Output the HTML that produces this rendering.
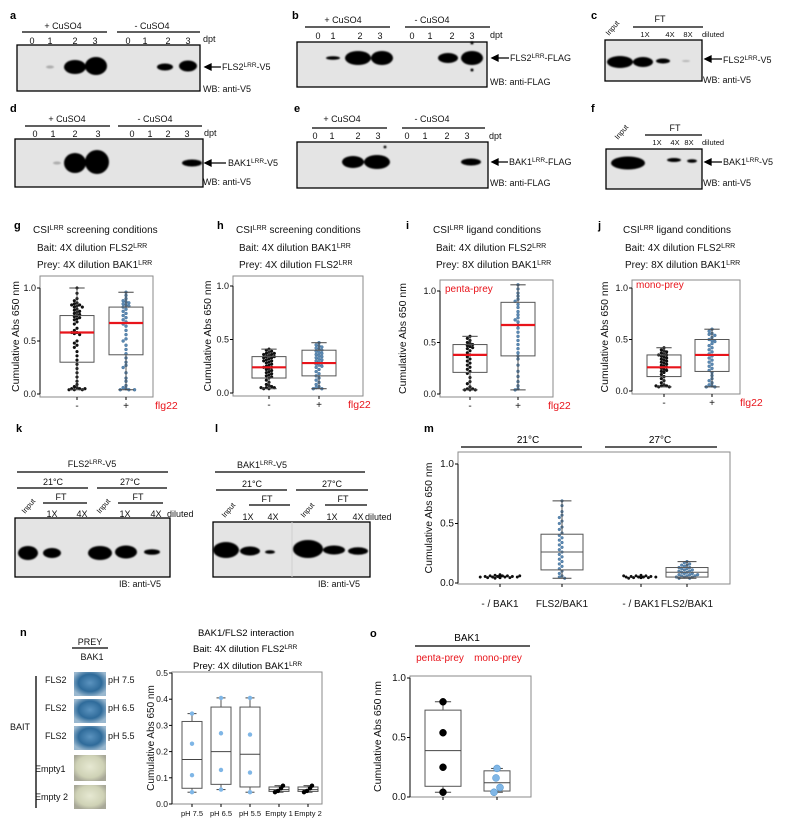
<!DOCTYPE html>
<html><head><meta charset="utf-8">
<style>
html,body{margin:0;padding:0;background:#fff;}
svg{display:block;font-family:"Liberation Sans",Arial,sans-serif;}
.t{font-size:9px;fill:#111;}
.s{font-size:7.5px;fill:#111;}
.lb{font-size:11px;font-weight:bold;fill:#000;}
.red{fill:#e8141b;}
</style></head>
<body>
<svg id="fig" width="800" height="828" viewBox="0 0 800 828" xmlns="http://www.w3.org/2000/svg">
<defs>
<filter id="bl" x="-50%" y="-50%" width="200%" height="200%"><feGaussianBlur stdDeviation="0.9"/></filter>
<radialGradient id="wellB" cx="50%" cy="45%" r="60%"><stop offset="0" stop-color="#5b93bf"/><stop offset="0.6" stop-color="#2f6b9a"/><stop offset="1" stop-color="#9ab8cf"/></radialGradient>
<radialGradient id="wellE" cx="50%" cy="45%" r="60%"><stop offset="0" stop-color="#e6e8d2"/><stop offset="0.7" stop-color="#cfd2b6"/><stop offset="1" stop-color="#a8a898"/></radialGradient>
</defs>

<!-- ===== panel a ===== -->
<g>
<text class="lb" x="10" y="19">a</text>
<text class="t" x="63" y="29" text-anchor="middle">+ CuSO4</text>
<line x1="22" y1="32" x2="107" y2="32" stroke="#000" stroke-width="1.2"/>
<text class="t" x="152" y="29" text-anchor="middle">- CuSO4</text>
<line x1="117" y1="32" x2="200" y2="32" stroke="#000" stroke-width="1.2"/>
<g class="t" text-anchor="middle"><text x="32" y="44">0</text><text x="50" y="44">1</text><text x="75" y="44">2</text><text x="95" y="44">3</text><text x="128" y="44">0</text><text x="145" y="44">1</text><text x="168" y="44">2</text><text x="188" y="44">3</text></g>
<text class="t" x="203" y="42">dpt</text>
<rect x="17" y="45" width="183" height="46" fill="#e4e4e4" stroke="#000" stroke-width="1.3"/>
<g filter="url(#bl)"><ellipse cx="50" cy="67" rx="4" ry="1.5" fill="#000" opacity="0.25"/><ellipse cx="75" cy="67" rx="11" ry="7" fill="#000"/><ellipse cx="96" cy="66" rx="11" ry="9" fill="#000"/><ellipse cx="165" cy="67" rx="8" ry="3.5" fill="#000"/><ellipse cx="188" cy="66" rx="9" ry="5.5" fill="#000"/></g>
<path d="M205 67 L221 67 M205 67 L211 64 L211 70 Z" stroke="#000" stroke-width="1.3" fill="#000"/>
<text class="t" x="222" y="70">FLS2<tspan font-size="6.5" dy="-3">LRR</tspan><tspan dy="3">-V5</tspan></text>
<text class="t" x="203" y="92">WB: anti-V5</text>
</g>

<!-- ===== panel b ===== -->
<g>
<text class="lb" x="292" y="19">b</text>
<text class="t" x="343" y="23" text-anchor="middle">+ CuSO4</text>
<line x1="305" y1="27" x2="390" y2="27" stroke="#000" stroke-width="1.2"/>
<text class="t" x="432" y="23" text-anchor="middle">- CuSO4</text>
<line x1="405" y1="27" x2="490" y2="27" stroke="#000" stroke-width="1.2"/>
<g class="t" text-anchor="middle"><text x="318" y="39">0</text><text x="333" y="39">1</text><text x="360" y="39">2</text><text x="380" y="39">3</text><text x="412" y="39">0</text><text x="430" y="39">1</text><text x="452" y="39">2</text><text x="472" y="39">3</text></g>
<text class="t" x="490" y="38">dpt</text>
<rect x="297" y="42" width="190" height="45" fill="#e4e4e4" stroke="#000" stroke-width="1.3"/>
<g filter="url(#bl)"><ellipse cx="333" cy="58" rx="7" ry="1.8" fill="#000"/><ellipse cx="358" cy="58" rx="13" ry="7" fill="#000"/><ellipse cx="382" cy="58" rx="11" ry="7" fill="#000"/><ellipse cx="448" cy="58" rx="10" ry="5" fill="#000"/><ellipse cx="472" cy="58" rx="11" ry="7" fill="#000"/><circle cx="472" cy="43" r="1.5" fill="#000"/><circle cx="472" cy="70" r="1.5" fill="#000"/></g>
<path d="M492 58 L509 58 M492 58 L498 55 L498 61 Z" stroke="#000" stroke-width="1.3" fill="#000"/>
<text class="t" x="510" y="61">FLS2<tspan font-size="6.5" dy="-3">LRR</tspan><tspan dy="3">-FLAG</tspan></text>
<text class="t" x="490" y="85">WB: anti-FLAG</text>
</g>

<!-- ===== panel c ===== -->
<g>
<text class="lb" x="591" y="19">c</text>
<text class="s" x="609" y="36" transform="rotate(-50 609 36)">Input</text>
<text class="t" x="660" y="22" text-anchor="middle">FT</text>
<line x1="633" y1="27" x2="703" y2="27" stroke="#000" stroke-width="1.2"/>
<g class="s" text-anchor="middle"><text x="645" y="37">1X</text><text x="670" y="37">4X</text><text x="688" y="37">8X</text></g>
<text class="s" x="702" y="37">diluted</text>
<rect x="605" y="40" width="97" height="41" fill="#e4e4e4" stroke="#000" stroke-width="1.3"/>
<g filter="url(#bl)"><ellipse cx="620" cy="62" rx="13" ry="6" fill="#000"/><ellipse cx="643" cy="62" rx="10" ry="5" fill="#000"/><ellipse cx="663" cy="61" rx="7" ry="2.5" fill="#000"/><ellipse cx="686" cy="61" rx="4" ry="1" fill="#000" opacity="0.2"/></g>
<path d="M705 59 L722 59 M705 59 L711 56 L711 62 Z" stroke="#000" stroke-width="1.3" fill="#000"/>
<text class="t" x="723" y="63">FLS2<tspan font-size="6.5" dy="-3">LRR</tspan><tspan dy="3">-V5</tspan></text>
<text class="t" x="703" y="83">WB: anti-V5</text>
</g>

<!-- ===== panel d ===== -->
<g>
<text class="lb" x="10" y="112">d</text>
<text class="t" x="67" y="122" text-anchor="middle">+ CuSO4</text>
<line x1="25" y1="126" x2="110" y2="126" stroke="#000" stroke-width="1.2"/>
<text class="t" x="155" y="122" text-anchor="middle">- CuSO4</text>
<line x1="118" y1="126" x2="202" y2="126" stroke="#000" stroke-width="1.2"/>
<g class="t" text-anchor="middle"><text x="35" y="137">0</text><text x="53" y="137">1</text><text x="75" y="137">2</text><text x="98" y="137">3</text><text x="132" y="137">0</text><text x="150" y="137">1</text><text x="168" y="137">2</text><text x="187" y="137">3</text></g>
<text class="t" x="204" y="136">dpt</text>
<rect x="15" y="139" width="188" height="48" fill="#e4e4e4" stroke="#000" stroke-width="1.3"/>
<g filter="url(#bl)"><ellipse cx="57" cy="163" rx="4" ry="1.5" fill="#000" opacity="0.25"/><ellipse cx="75" cy="163" rx="11" ry="10" fill="#000"/><ellipse cx="97" cy="162" rx="12" ry="12" fill="#000"/><ellipse cx="192" cy="163" rx="10" ry="3.5" fill="#000"/></g>
<path d="M205 163 L226 163 M205 163 L211 160 L211 166 Z" stroke="#000" stroke-width="1.3" fill="#000"/>
<text class="t" x="228" y="166">BAK1<tspan font-size="6.5" dy="-3">LRR</tspan><tspan dy="3">-V5</tspan></text>
<text class="t" x="203" y="185">WB: anti-V5</text>
</g>

<!-- ===== panel e ===== -->
<g>
<text class="lb" x="294" y="112">e</text>
<text class="t" x="342" y="122" text-anchor="middle">+ CuSO4</text>
<line x1="312" y1="128" x2="387" y2="128" stroke="#000" stroke-width="1.2"/>
<text class="t" x="432" y="122" text-anchor="middle">- CuSO4</text>
<line x1="402" y1="128" x2="485" y2="128" stroke="#000" stroke-width="1.2"/>
<g class="t" text-anchor="middle"><text x="315" y="139">0</text><text x="332" y="139">1</text><text x="358" y="139">2</text><text x="378" y="139">3</text><text x="407" y="139">0</text><text x="425" y="139">1</text><text x="447" y="139">2</text><text x="467" y="139">3</text></g>
<text class="t" x="489" y="139">dpt</text>
<rect x="297" y="142" width="191" height="46" fill="#e4e4e4" stroke="#000" stroke-width="1.3"/>
<g filter="url(#bl)"><ellipse cx="353" cy="162" rx="11" ry="6" fill="#000"/><ellipse cx="377" cy="162" rx="13" ry="7" fill="#000"/><ellipse cx="471" cy="162" rx="10" ry="3.5" fill="#000"/><circle cx="385" cy="147" r="1.4" fill="#000"/></g>
<path d="M492 162 L508 162 M492 162 L498 159 L498 165 Z" stroke="#000" stroke-width="1.3" fill="#000"/>
<text class="t" x="509" y="165">BAK1<tspan font-size="6.5" dy="-3">LRR</tspan><tspan dy="3">-FLAG</tspan></text>
<text class="t" x="490" y="186">WB: anti-FLAG</text>
</g>

<!-- ===== panel f ===== -->
<g>
<text class="lb" x="591" y="112">f</text>
<text class="s" x="618" y="140" transform="rotate(-50 618 140)">Input</text>
<text class="t" x="675" y="131" text-anchor="middle">FT</text>
<line x1="645" y1="135" x2="702" y2="135" stroke="#000" stroke-width="1.2"/>
<g class="s" text-anchor="middle"><text x="657" y="145">1X</text><text x="675" y="145">4X</text><text x="689" y="145">8X</text></g>
<text class="s" x="702" y="145">diluted</text>
<rect x="606" y="149" width="96" height="40" fill="#e4e4e4" stroke="#000" stroke-width="1.3"/>
<g filter="url(#bl)"><ellipse cx="628" cy="163" rx="17" ry="6.5" fill="#000"/><ellipse cx="674" cy="160" rx="7" ry="2" fill="#000"/><ellipse cx="692" cy="161" rx="5" ry="1.7" fill="#000"/></g>
<path d="M705 162 L722 162 M705 162 L711 159 L711 165 Z" stroke="#000" stroke-width="1.3" fill="#000"/>
<text class="t" x="723" y="165">BAK1<tspan font-size="6.5" dy="-3">LRR</tspan><tspan dy="3">-V5</tspan></text>
<text class="t" x="703" y="186">WB: anti-V5</text>
</g>

<!-- ===== g-j headers ===== -->
<g font-size="10" fill="#111">
<text class="lb" x="14" y="229">g</text>
<text x="33" y="233">CSI<tspan font-size="7" dy="-3">LRR</tspan><tspan dy="3"> screening conditions</tspan></text>
<text x="37" y="251">Bait:  4X dilution FLS2<tspan font-size="7" dy="-3">LRR</tspan></text>
<text x="37" y="268">Prey: 4X dilution BAK1<tspan font-size="7" dy="-3">LRR</tspan></text>
<text class="lb" x="217" y="229">h</text>
<text x="236" y="233">CSI<tspan font-size="7" dy="-3">LRR</tspan><tspan dy="3"> screening conditions</tspan></text>
<text x="239" y="251">Bait:  4X dilution BAK1<tspan font-size="7" dy="-3">LRR</tspan></text>
<text x="239" y="268">Prey: 4X dilution FLS2<tspan font-size="7" dy="-3">LRR</tspan></text>
<text class="lb" x="406" y="229">i</text>
<text x="433" y="233">CSI<tspan font-size="7" dy="-3">LRR</tspan><tspan dy="3"> ligand conditions</tspan></text>
<text x="436" y="251">Bait:  4X dilution FLS2<tspan font-size="7" dy="-3">LRR</tspan></text>
<text x="436" y="268">Prey: 8X dilution BAK1<tspan font-size="7" dy="-3">LRR</tspan></text>
<text class="lb" x="598" y="229">j</text>
<text x="623" y="233">CSI<tspan font-size="7" dy="-3">LRR</tspan><tspan dy="3"> ligand conditions</tspan></text>
<text x="625" y="251">Bait:  4X dilution FLS2<tspan font-size="7" dy="-3">LRR</tspan></text>
<text x="625" y="268">Prey: 8X dilution BAK1<tspan font-size="7" dy="-3">LRR</tspan></text>
<text x="445" y="292" font-size="10" class="red">penta-prey</text>
<text x="636" y="288" font-size="10" class="red">mono-prey</text>
</g>

<!-- ===== k blot ===== -->
<g>
<text class="lb" x="16" y="432">k</text>
<text class="t" x="92" y="467" text-anchor="middle">FLS2<tspan font-size="6.5" dy="-3">LRR</tspan><tspan dy="3">-V5</tspan></text>
<line x1="17" y1="472" x2="168" y2="472" stroke="#000" stroke-width="1.2"/>
<text class="t" x="53" y="485" text-anchor="middle">21°C</text>
<line x1="17" y1="488" x2="88" y2="488" stroke="#000" stroke-width="1.2"/>
<text class="t" x="130" y="485" text-anchor="middle">27°C</text>
<line x1="97" y1="488" x2="167" y2="488" stroke="#000" stroke-width="1.2"/>
<text class="s" x="25" y="514" transform="rotate(-50 25 514)">Input</text>
<text class="t" x="61" y="500" text-anchor="middle">FT</text>
<line x1="43" y1="503" x2="87" y2="503" stroke="#000" stroke-width="1.2"/>
<text class="s" x="100" y="514" transform="rotate(-50 100 514)">Input</text>
<text class="t" x="138" y="500" text-anchor="middle">FT</text>
<line x1="118" y1="503" x2="163" y2="503" stroke="#000" stroke-width="1.2"/>
<g class="t" text-anchor="middle"><text x="52" y="517">1X</text><text x="82" y="517">4X</text><text x="125" y="517">1X</text><text x="156" y="517">4X</text></g>
<text class="t" x="167" y="517">diluted</text>
<rect x="15" y="518" width="155" height="59" fill="#e4e4e4" stroke="#000" stroke-width="1.3"/>
<g filter="url(#bl)"><ellipse cx="28" cy="553" rx="10" ry="7" fill="#000"/><ellipse cx="52" cy="553" rx="9" ry="5" fill="#000"/><ellipse cx="100" cy="553" rx="12" ry="7" fill="#000"/><ellipse cx="126" cy="552" rx="11" ry="6.5" fill="#000"/><ellipse cx="152" cy="552" rx="8" ry="2.8" fill="#000"/></g>
<text class="t" x="119" y="587">IB: anti-V5</text>
</g>

<!-- ===== l blot ===== -->
<g>
<text class="lb" x="215" y="432">l</text>
<text class="t" x="262" y="468" text-anchor="middle">BAK1<tspan font-size="6.5" dy="-3">LRR</tspan><tspan dy="3">-V5</tspan></text>
<line x1="215" y1="472" x2="365" y2="472" stroke="#000" stroke-width="1.2"/>
<text class="t" x="252" y="487" text-anchor="middle">21°C</text>
<line x1="216" y1="490" x2="287" y2="490" stroke="#000" stroke-width="1.2"/>
<text class="t" x="332" y="487" text-anchor="middle">27°C</text>
<line x1="296" y1="490" x2="368" y2="490" stroke="#000" stroke-width="1.2"/>
<text class="s" x="225" y="518" transform="rotate(-50 225 518)">Input</text>
<text class="t" x="267" y="502" text-anchor="middle">FT</text>
<line x1="249" y1="505" x2="290" y2="505" stroke="#000" stroke-width="1.2"/>
<text class="s" x="304" y="518" transform="rotate(-50 304 518)">Input</text>
<text class="t" x="343" y="502" text-anchor="middle">FT</text>
<line x1="325" y1="505" x2="367" y2="505" stroke="#000" stroke-width="1.2"/>
<g class="t" text-anchor="middle"><text x="248" y="520">1X</text><text x="273" y="520">4X</text><text x="332" y="520">1X</text><text x="358" y="520">4X</text></g>
<text class="t" x="365" y="520">diluted</text>
<rect x="213" y="522" width="157" height="55" fill="#e4e4e4" stroke="#000" stroke-width="1.3"/>
<line x1="292" y1="522" x2="292" y2="577" stroke="#cfcfcf" stroke-width="1"/>
<g filter="url(#bl)"><ellipse cx="226" cy="550" rx="13" ry="8" fill="#000"/><ellipse cx="250" cy="551" rx="10" ry="4.5" fill="#000"/><ellipse cx="270" cy="552" rx="5" ry="1.8" fill="#000"/><ellipse cx="308" cy="549" rx="15" ry="9" fill="#000"/><ellipse cx="334" cy="550" rx="11" ry="4.5" fill="#000"/><ellipse cx="358" cy="551" rx="10" ry="3.8" fill="#000"/></g>
<text class="t" x="318" y="587">IB: anti-V5</text>
</g>

<!-- ===== m header ===== -->
<g>
<text class="lb" x="424" y="432">m</text>
<text x="528" y="443" font-size="10" text-anchor="middle">21°C</text>
<line x1="461" y1="447" x2="582" y2="447" stroke="#000" stroke-width="1.3"/>
<text x="660" y="443" font-size="10" text-anchor="middle">27°C</text>
<line x1="605" y1="447" x2="717" y2="447" stroke="#000" stroke-width="1.3"/>
</g>

<!-- ===== n plate ===== -->
<g>
<text class="lb" x="20" y="636">n</text>
<text class="t" x="90" y="645" text-anchor="middle">PREY</text>
<line x1="72" y1="648" x2="108" y2="648" stroke="#000" stroke-width="1.2"/>
<text class="t" x="92" y="660" text-anchor="middle">BAK1</text>
<line x1="36" y1="676" x2="36" y2="808" stroke="#000" stroke-width="1.3"/>
<text class="t" x="10" y="730">BAIT</text>
<text class="t" x="45" y="683">FLS2</text>
<text class="t" x="45" y="711">FLS2</text>
<text class="t" x="45" y="739">FLS2</text>
<text class="t" x="35" y="772">Empty1</text>
<text class="t" x="35" y="800">Empty 2</text>
<text class="t" x="108" y="683">pH 7.5</text>
<text class="t" x="108" y="711">pH 6.5</text>
<text class="t" x="108" y="739">pH 5.5</text>
<g>
<rect x="74" y="672" width="32" height="24" fill="url(#wellB)"/><rect x="74" y="699" width="32" height="24" fill="url(#wellB)"/><rect x="74" y="726" width="32" height="24" fill="url(#wellB)"/><rect x="74" y="755" width="32" height="26" fill="url(#wellE)"/><rect x="74" y="785" width="32" height="24" fill="url(#wellE)"/>
</g>
<text x="246" y="636" font-size="9.5" text-anchor="middle">BAK1/FLS2 interaction</text>
<text x="193" y="652" font-size="9.5">Bait:  4X dilution FLS2<tspan font-size="6.5" dy="-3">LRR</tspan></text>
<text x="193" y="669" font-size="9.5">Prey: 4X dilution BAK1<tspan font-size="6.5" dy="-3">LRR</tspan></text>
</g>

<!-- ===== o header ===== -->
<g>
<text class="lb" x="370" y="637">o</text>
<text x="467" y="641" font-size="10" text-anchor="middle">BAK1</text>
<line x1="415" y1="646" x2="530" y2="646" stroke="#000" stroke-width="1.3"/>
<text x="440" y="661" font-size="10" class="red" text-anchor="middle">penta-prey</text>
<text x="498" y="661" font-size="10" class="red" text-anchor="middle">mono-prey</text>
</g>

<g id="charts"></g>
</svg>

<script>
// ---------- data ----------
const ghCats = ["-", "+"];
const mCats = ["- / BAK1", "FLS2/BAK1", "- / BAK1", "FLS2/BAK1"];
const nCats = ["pH 7.5", "pH 6.5", "pH 5.5", "Empty 1", "Empty 2"];
const oCats = ["penta", "mono"];
const ticks01 = ["0.0", "0.5", "1.0"];
const tickVals01 = [0, 0.5, 1.0];
const nTicks = ["0.0", "0.1", "0.2", "0.3", "0.4", "0.5"];
const nTickVals = [0, 0.1, 0.2, 0.3, 0.4, 0.5];

// box stats: [lo, q1, median, q3, hi]
const gStats = [[0.04, 0.30, 0.58, 0.74, 1.00], [0.04, 0.37, 0.67, 0.82, 0.96]];
const hStats = [[0.04, 0.14, 0.24, 0.34, 0.41], [0.04, 0.16, 0.28, 0.40, 0.47]];
const iStats = [[0.04, 0.21, 0.38, 0.48, 0.56], [0.04, 0.37, 0.67, 0.89, 1.06]];
const jStats = [[0.04, 0.14, 0.23, 0.35, 0.42], [0.04, 0.19, 0.35, 0.50, 0.60]];
const mStats = [null, [0.04, 0.11, 0.26, 0.41, 0.69], null, [0.04, 0.05, 0.09, 0.13, 0.18]];
const nStats = [[0.045, 0.06, 0.17, 0.315, 0.345], [0.055, 0.075, 0.20, 0.37, 0.405], [0.045, 0.065, 0.19, 0.37, 0.405], [0.045, 0.048, 0.055, 0.065, 0.07], [0.045, 0.048, 0.055, 0.065, 0.07]];
const oStats = [[0.04, 0.09, 0.39, 0.73, 0.80], [0.04, 0.05, 0.12, 0.22, 0.24]];

// points
const gMinus = [1.0,0.95,0.9,0.88,0.86,0.85,0.84,0.84,0.83,0.82,0.82,0.8,0.79,0.78,0.77,0.76,0.75,0.74,0.73,0.72,0.71,0.7,0.68,0.66,0.62,0.6,0.58,0.58,0.57,0.56,0.5,0.48,0.46,0.44,0.4,0.36,0.32,0.28,0.24,0.2,0.16,0.12,0.09,0.07,0.06,0.05,0.05,0.05,0.04,0.04,0.04];
const gPlus = [0.96,0.93,0.9,0.88,0.87,0.86,0.85,0.84,0.83,0.82,0.8,0.78,0.76,0.74,0.72,0.7,0.68,0.66,0.64,0.6,0.56,0.52,0.5,0.46,0.42,0.38,0.34,0.3,0.27,0.25,0.2,0.15,0.12,0.08,0.06,0.05,0.04,0.04,0.04];
const hMinus = [0.41,0.4,0.39,0.38,0.37,0.37,0.36,0.36,0.35,0.34,0.34,0.33,0.33,0.32,0.31,0.3,0.3,0.29,0.28,0.27,0.26,0.25,0.24,0.24,0.23,0.22,0.21,0.2,0.19,0.18,0.17,0.16,0.15,0.14,0.12,0.1,0.08,0.07,0.06,0.05,0.05,0.05,0.04,0.04];
const hPlus = [0.47,0.45,0.44,0.43,0.42,0.41,0.4,0.39,0.38,0.37,0.36,0.35,0.34,0.33,0.32,0.31,0.3,0.29,0.28,0.27,0.26,0.25,0.24,0.22,0.2,0.18,0.16,0.14,0.12,0.1,0.08,0.06,0.05,0.04,0.04];
const iMinus = [0.56,0.54,0.52,0.5,0.49,0.48,0.47,0.46,0.45,0.44,0.42,0.4,0.38,0.36,0.34,0.32,0.3,0.28,0.26,0.24,0.22,0.2,0.16,0.12,0.1,0.07,0.05,0.05,0.04,0.04,0.04];
const iPlus = [1.06,1.02,0.98,0.95,0.92,0.9,0.87,0.84,0.8,0.77,0.74,0.72,0.7,0.67,0.64,0.6,0.56,0.52,0.48,0.44,0.4,0.37,0.34,0.28,0.22,0.17,0.12,0.08,0.05,0.04];
const jMinus = [0.42,0.4,0.39,0.38,0.37,0.36,0.35,0.35,0.34,0.33,0.32,0.31,0.3,0.29,0.28,0.27,0.26,0.25,0.24,0.23,0.22,0.21,0.2,0.19,0.18,0.16,0.14,0.12,0.1,0.08,0.06,0.05,0.05,0.05,0.04,0.04];
const jPlus = [0.6,0.58,0.56,0.55,0.54,0.52,0.5,0.49,0.48,0.46,0.44,0.42,0.4,0.38,0.36,0.34,0.32,0.3,0.28,0.26,0.24,0.22,0.2,0.18,0.15,0.12,0.1,0.08,0.06,0.05,0.04,0.04];
const m1 = [0.07,0.065,0.06,0.06,0.06,0.055,0.055,0.055,0.05,0.05,0.05,0.05,0.045,0.045,0.045,0.04,0.06,0.055,0.05,0.05,0.045,0.06,0.05,0.055,0.045,0.05];
const m2 = [0.69,0.65,0.6,0.57,0.55,0.52,0.5,0.47,0.45,0.42,0.4,0.38,0.36,0.34,0.32,0.3,0.28,0.26,0.24,0.22,0.2,0.18,0.16,0.14,0.12,0.1,0.08,0.06,0.05,0.04];
const m3 = [0.065,0.06,0.06,0.055,0.055,0.05,0.05,0.05,0.05,0.045,0.045,0.045,0.04,0.06,0.055,0.05,0.045,0.05,0.05,0.055];
const m4 = [0.18,0.17,0.16,0.15,0.15,0.14,0.13,0.13,0.12,0.12,0.11,0.11,0.1,0.1,0.09,0.09,0.08,0.08,0.07,0.07,0.06,0.06,0.05,0.05,0.05,0.04,0.04,0.06,0.07];
const nPts = [[0.045,0.11,0.23,0.345],[0.055,0.13,0.27,0.405],[0.045,0.12,0.265,0.405],[0.045,0.05,0.06,0.07],[0.045,0.05,0.06,0.07]];
const oPts = [[0.04,0.25,0.54,0.80],[0.04,0.08,0.16,0.24]];

// ---------- helpers ----------
const NS = "http://www.w3.org/2000/svg";
const root = document.getElementById("charts");
function mk(tag, attrs, parent) {
  const e = document.createElementNS(NS, tag);
  for (const k in attrs) e.setAttribute(k, attrs[k]);
  (parent || root).appendChild(e);
  return e;
}
function yScale(y0px, y1px, v1) { return v => y0px - (y0px - y1px) * v / v1; }

function drawAxes(g, P) {
  const fr = mk("rect", {x: P.left, y: P.top, width: P.right - P.left, height: P.bottom - P.top, fill: "none", stroke: "#8a8a8a", "stroke-width": 1}, g);
  
  
  mk("line", {x1: P.left, y1: P.y(P.tv[P.tv.length-1]), x2: P.left, y2: P.y(0), stroke: "#000", "stroke-width": 1}, g);
  P.tv.forEach((v, i) => {
    mk("line", {x1: P.left - 3, x2: P.left, y1: P.y(v), y2: P.y(v), stroke: "#000"}, g);
    const t = mk("text", {x: P.left - 4, y: P.y(v) + 3, "font-size": P.tfs || 9, "text-anchor": "end", fill: "#111"}, g);
    t.textContent = P.tl[i];
    
    
  });
  const yt = mk("text", {x: 0, y: 0, "font-size": P.yfs || 10.5, "text-anchor": "middle", fill: "#111", transform: `translate(${P.ytx},${(P.top + P.bottom) / 2}) rotate(-90)`}, g);
  yt.textContent = "Cumulative Abs 650 nm";
  
  
  P.cats.forEach((c, i) => {
    const x = P.x(i);
    mk("line", {x1: x, x2: x, y1: P.bottom, y2: P.bottom + 3, stroke: "#000"}, g);
    if (P.showCat !== false) {
      const t = mk("text", {x: x, y: P.catY, "font-size": P.cfs || 10, "text-anchor": "middle", fill: "#111"}, g);
      t.textContent = c;
      
      
    }
  });
}
function drawBox(g, P, i, s, hw, medColor, medW) {
  const x = P.x(i), y = P.y;
  mk("line", {x1: x, x2: x, y1: y(s[4]), y2: y(s[3]), stroke: "#444", "stroke-width": 0.9}, g);
  mk("line", {x1: x, x2: x, y1: y(s[0]), y2: y(s[1]), stroke: "#444", "stroke-width": 0.9}, g);
  mk("line", {x1: x - hw * 0.45, x2: x + hw * 0.45, y1: y(s[4]), y2: y(s[4]), stroke: "#444", "stroke-width": 1}, g);
  mk("line", {x1: x - hw * 0.45, x2: x + hw * 0.45, y1: y(s[0]), y2: y(s[0]), stroke: "#444", "stroke-width": 1}, g);
  const b = mk("rect", {x: x - hw, y: y(s[3]), width: 2 * hw, height: y(s[1]) - y(s[3]), fill: "none", stroke: "#555", "stroke-width": 1}, g);
  
  
  const m = mk("line", {x1: x - hw, x2: x + hw, y1: y(s[2]), y2: y(s[2]), stroke: medColor, "stroke-width": medW}, g);
  
  
}
function drawSwarm(g, P, i, vals, color, r, maxW) {
  const x = P.x(i), placed = [];
  const step = r * 1.9;
  vals.forEach(v => {
    const py = P.y(v);
    let dx = 0;
    for (let k = 0; k < 40; k++) {
      const cand = Math.ceil(k / 2) * step * (k % 2 ? -1 : 1);
      if (Math.abs(cand) > maxW) { dx = 0; break; }
      const ok = placed.every(q => Math.hypot(q[0] - cand, q[1] - py) >= 2 * r);
      if (ok) { dx = cand; break; }
    }
    placed.push([dx, py]);
    const c = mk("circle", {cx: x + dx, cy: py, r: r, fill: color, stroke: color === "#111" ? "#000" : "#3d6a92", "stroke-width": 0.4}, g);
    
    
  });
}

// ---------- g-j ----------
const panels = [
  {name: "panel-g", left: 40, right: 153, top: 276, bottom: 397, y: yScale(394, 288, 1), x: i => 77 + i * 49, ytx: 19, flg: 155, st: gStats, pts: [gMinus, gPlus]},
  {name: "panel-h", left: 233, right: 363, top: 276, bottom: 396, y: yScale(393, 286, 1), x: i => 269 + i * 50, ytx: 211, flg: 348, st: hStats, pts: [hMinus, hPlus]},
  {name: "panel-i", left: 440, right: 553, top: 280, bottom: 397, y: yScale(394, 291, 1), x: i => 470 + i * 48, ytx: 406, flg: 548, st: iStats, pts: [iMinus, iPlus]},
  {name: "panel-j", left: 632, right: 740, top: 280, bottom: 394, y: yScale(391, 288, 1), x: i => 664 + i * 48, ytx: 608, flg: 740, st: jStats, pts: [jMinus, jPlus]}
];
panels.forEach(P => {
  const g = mk("g", {});
  
  
  Object.assign(P, {tv: tickVals01, tl: ticks01, cats: ghCats, catY: P.bottom + 12});
  drawAxes(g, P);
  drawSwarm(g, P, 0, P.pts[0], "#111", 1.4, 13);
  drawSwarm(g, P, 1, P.pts[1], "#5b89b3", 1.5, 14);
  drawBox(g, P, 0, P.st[0], 17, "#e8141b", 2.2);
  drawBox(g, P, 1, P.st[1], 17, "#e8141b", 2.2);
  const f = mk("text", {x: P.flg, y: P.bottom + 12, "font-size": 10.5, fill: "#e8141b"}, g);
  f.textContent = "flg22";
  
  
});

// ---------- m ----------
{
  const P = {left: 458, right: 730, top: 452, bottom: 584, y: yScale(583, 464, 1), x: i => 500 + [0, 62, 141, 187][i], ytx: 432, tv: tickVals01, tl: ticks01, cats: mCats, catY: 607, tfs: 10};
  const g = mk("g", {});
  
  
  drawAxes(g, P);
  drawSwarm(g, P, 0, m1, "#111", 1.3, 21);
  drawSwarm(g, P, 1, m2, "#5b89b3", 1.4, 14);
  drawSwarm(g, P, 2, m3, "#111", 1.3, 18);
  drawSwarm(g, P, 3, m4, "#5b89b3", 1.4, 18);
  drawBox(g, P, 1, mStats[1], 21, "#555", 1);
  drawBox(g, P, 3, mStats[3], 21, "#555", 1);
}

// ---------- n ----------
{
  const P = {left: 172, right: 322, top: 672, bottom: 804, y: yScale(804, 673, 0.5), x: i => 192 + i * 29, ytx: 154, tv: nTickVals, tl: nTicks, cats: nCats, catY: 816, cfs: 7.5, tfs: 8.5, yfs: 10};
  const g = mk("g", {});
  
  
  drawAxes(g, P);
  nStats.forEach((s, i) => drawBox(g, P, i, s, 10, "#444", 1));
  nPts.forEach((arr, i) => arr.forEach((v, k) => {
    const c = mk("circle", {cx: P.x(i) + (i > 2 ? [-4, -1, 2, 4][k] : 0), cy: P.y(v), r: 2.2, fill: i > 2 ? "#000" : "#7fb6e6"}, g);
    
    
  }));
}

// ---------- o ----------
{
  const P = {left: 410, right: 531, top: 676, bottom: 797, y: yScale(797, 678, 1), x: i => 443 + i * 54, ytx: 381, tv: tickVals01, tl: ticks01, cats: oCats, showCat: false, catY: 0, tfs: 10};
  const g = mk("g", {});
  
  
  drawAxes(g, P);
  drawBox(g, P, 0, oStats[0], 18, "#444", 1);
  drawBox(g, P, 1, oStats[1], 13, "#444", 1);
  oPts.forEach((arr, i) => arr.forEach((v, k) => {
    const c = mk("circle", {cx: P.x(i) + (i === 1 ? [-3, 3, -1, 0][k] : 0), cy: P.y(v), r: 3.5, fill: i === 0 ? "#000" : "#7fb6e6", stroke: i === 0 ? "#000" : "#4a8fc8", "stroke-width": 0.5}, g);
    
    
  }));
}
</script>
</body></html>
